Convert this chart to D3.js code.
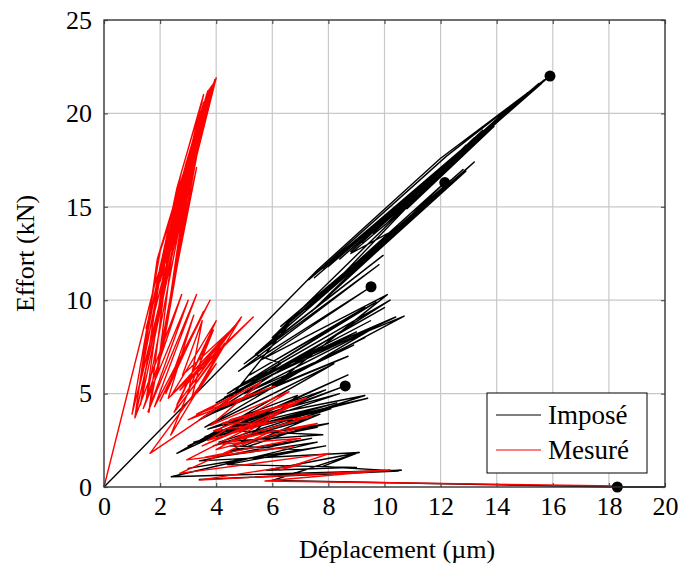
<!DOCTYPE html>
<html><head><meta charset="utf-8">
<script src="https://cdn.jsdelivr.net/npm/d3@7"></script>
<style>
body{margin:0;background:#fff}
svg text{font-family:'Liberation Serif','Times New Roman',Times,serif;fill:#000}
</style>
</head><body>
<svg id="c" width="681" height="567"></svg>
<script>
const xTicks = [0,2,4,6,8,10,12,14,16,18,20];
const yTicks = [0,5,10,15,20,25];
const seriesNames = ["Imposé","Mesuré"];
const seriesColors = ["#000000","#ff0000"];

// Imposé (black) polyline: displacement (µm), effort (kN)
const impose = [
[0,0],[7.6,11.6],
[12.0,17.6],[15.9,22.0],
[7.3,11.1],[12.2,17.7],[15.7,21.8],
[7.8,11.7],[15.5,21.6],
[8.2,12.1],[15.3,21.3],
[7.5,11.2],[15.1,21.1],
[8.6,12.6],[14.9,20.8],
[8.0,11.8],[14.7,20.6],
[9.0,13.0],[15.6,21.6],
[8.4,12.2],[14.5,20.3],
[9.4,13.5],[14.3,20.1],
[8.8,12.6],[15.2,21.2],
[9.8,14.0],[14.0,19.7],
[9.2,13.1],[13.8,19.4],
[10.2,14.5],[15.0,20.9],
[9.6,13.6],[13.5,19.1],
[10.6,15.0],[14.8,20.6],
[10.0,14.0],[13.2,18.7],
[11.0,15.5],[14.2,19.8],
[10.4,14.4],[12.9,18.3],
[11.4,16.0],[13.9,19.3],
[10.8,14.9],[12.6,17.8],
[8.2,10.9],[12.8,17.0],[8.6,11.3],[12.5,16.6],[7.8,10.4],[12.15,16.3],[9.0,11.7],[12.9,16.9],
[8.4,10.8],[11.8,15.6],[7.5,9.9],[11.5,15.1],[9.5,12.3],[13.2,17.4],[7.2,9.5],[11.0,14.4],
[8.0,10.6],[12.3,16.1],[6.8,9.1],[11.2,14.7],[7.0,9.3],[12.6,16.5],[6.5,8.7],[10.8,14.2],
[6.3,8.6],[10.4,13.8],[8.8,12.5],[10.7,14.9],[6.0,8.0],[10.0,13.2],[7.4,9.4],[11.4,14.9],
[5.4,7.1],[9.95,12.4],[5.0,6.6],[9.8,11.9],[4.8,6.2],[9.52,10.72],[5.6,6.8],[10.1,10.3],
[6.0,5.4],[10.7,9.15],[5.0,5.6],[10.4,9.1],[4.3,4.8],[9.5,8.9],[5.8,6.0],[10.0,9.6],
[4.0,4.5],[9.0,8.3],[4.6,5.2],[9.7,9.9],[5.2,6.0],[9.3,9.6],[4.4,5.0],[10.2,10.0],
[3.8,3.9],[8.7,7.0],[4.6,4.5],[9.3,8.0],[3.4,3.6],[6.3,6.6],[5.4,7.1],[6.6,8.7],
[4.2,4.2],[8.9,7.6],[5.0,5.0],[9.6,8.5],[3.6,3.2],[8.2,6.6],
[2.6,1.8],[8.7,6.0],[3.0,2.2],[8.6,5.41],[3.6,2.7],[9.4,4.75],[3.2,2.4],[8.3,4.5],
[4.25,3.05],[7.5,4.8],[5.6,3.8],[9.3,4.9],[4.1,2.4],[7.8,2.8],[4.8,3.0],[8.1,4.2],
[3.9,2.2],[7.2,3.6],[4.4,3.4],[7.9,5.2],[5.0,3.3],[8.4,5.0],[3.7,3.1],[6.9,4.9],
[4.9,2.4],[7.6,3.2],[5.3,2.9],[7.7,3.9],[4.5,1.9],[7.4,2.6],
[3.4,1.4],[9.1,1.85],[5.8,0.9],[9.0,1.05],[4.4,1.2],[7.9,2.2],[3.0,1.0],[7.0,2.0],
[4.5,2.2],[8.0,3.4],[5.0,2.7],[7.4,3.3],[4.0,1.6],[7.6,2.4],
[2.4,0.55],[10.6,0.9],[3.4,0.4],[10.5,0.85],[7.8,1.1],[9.07,1.84],[6.0,0.35],[18.3,0.0],[20,0]
];

// Mesuré (red) polyline
const mesure = [
[0,0],[1.8,10.8],
[2.3,13.0],[4.0,21.9],
[1.0,3.9],[2.0,12.6],[3.9,21.6],
[1.2,5.0],[2.2,12.8],[3.8,21.4],
[1.1,3.7],[1.9,12.2],[3.7,21.1],
[1.5,8.5],[2.6,14.5],[3.6,20.7],
[1.3,4.4],[2.1,12.3],[3.95,21.8],
[1.7,9.5],[3.5,20.3],
[1.5,4.6],[2.25,12.9],[3.4,19.7],
[2.0,11.0],[3.75,21.3],
[1.6,4.0],[2.3,12.4],[3.3,19.1],
[2.2,12.0],[3.55,20.6],
[1.9,6.0],[2.4,12.2],[3.2,18.4],
[2.5,13.4],[3.65,20.9],
[2.1,7.4],[2.6,12.6],[3.1,17.6],
[2.4,12.7],[3.45,20.1],
[2.2,8.6],[2.9,15.0],
[2.7,12.9],[3.3,17.1],
[2.3,9.5],[3.0,16.6],[2.8,14.3],[3.85,21.5],
[1.4,7.0],[2.0,11.8],[3.35,19.6],
[1.7,9.6],[2.6,16.0],[3.55,21.0],[1.9,10.5],[2.75,16.8],[3.45,20.4],[2.0,10.0],[2.9,17.2],[3.7,21.2],
[1.1,3.7],[2.77,10.3],[1.4,4.2],[3.0,10.0],[1.57,4.03],[3.3,10.3],[1.8,4.3],[3.78,10.0],
[2.0,4.6],[3.55,9.4],[2.2,5.0],[3.2,9.2],[2.29,4.75],[5.32,9.1],[2.71,5.19],[4.85,8.94],
[2.4,4.9],[4.0,8.9],[2.6,4.4],[4.5,8.3],[2.9,5.4],[3.9,8.4],[2.38,2.78],[4.9,9.1],
[3.2,5.6],[4.6,8.5],[2.8,6.0],[3.5,8.9],[3.0,5.0],[4.3,7.7],[3.4,5.4],[4.1,7.2],
[2.5,4.0],[3.6,7.6],[3.1,4.6],[3.6,5.8],[3.3,5.0],[4.0,6.6],
[1.64,1.8],[4.8,5.0],[3.0,3.6],[6.1,5.4],[3.3,3.9],[5.6,5.6],[3.8,3.3],[6.6,5.1],
[3.7,2.5],[5.8,3.4],[4.2,3.4],[7.2,4.75],[3.5,2.2],[6.2,3.9],[4.0,2.0],[7.6,3.4],
[4.7,2.6],[7.4,3.8],[3.9,3.0],[6.4,4.4],[4.5,3.6],[6.9,4.5],[2.95,1.45],[6.75,2.16],
[3.6,1.6],[7.0,2.6],[4.2,2.3],[6.0,3.0],
[2.7,0.73],[8.06,1.8],[6.27,0.91],[7.0,1.2],[3.4,0.37],[10.2,0.91],[5.74,0.32],[18.3,0.05]
];

const markers = [[15.9,22.0],[12.15,16.3],[9.52,10.72],[8.6,5.41],[18.3,0.0]];

const L = 104, R = 665, T = 20, B = 487;
const x = d3.scaleLinear().domain([0,20]).range([L,R]);
const y = d3.scaleLinear().domain([0,25]).range([B,T]);
const svg = d3.select("#c");
const FONT = "'Liberation Serif','Times New Roman',Times,serif";

// grid
svg.append("g").selectAll("line").data(xTicks).join("line")
  .attr("x1",d=>x(d)).attr("x2",d=>x(d)).attr("y1",T).attr("y2",B)
  .attr("stroke","#c8c8c8").attr("stroke-width",1.2);
svg.append("g").selectAll("line").data(yTicks).join("line")
  .attr("y1",d=>y(d)).attr("y2",d=>y(d)).attr("x1",L).attr("x2",R)
  .attr("stroke","#c8c8c8").attr("stroke-width",1.2);

// series
const line = d3.line().x(d=>x(d[0])).y(d=>y(d[1]));
svg.append("path").datum(impose).attr("d",line).attr("fill","none")
  .attr("stroke",seriesColors[0]).attr("stroke-width",1.4).attr("stroke-linejoin","round");
svg.append("path").datum(mesure).attr("d",line).attr("fill","none")
  .attr("stroke",seriesColors[1]).attr("stroke-width",1.4).attr("stroke-linejoin","round");

svg.append("g").selectAll("circle").data(markers).join("circle")
  .attr("cx",d=>x(d[0])).attr("cy",d=>y(d[1])).attr("r",5.5).attr("fill","#000");

// axes
const fs = "26px";
const gx = svg.append("g").attr("transform",`translate(0,${B})`)
  .call(d3.axisBottom(x).tickValues(xTicks).tickSizeInner(-4).tickSizeOuter(0).tickPadding(10));
const gy = svg.append("g").attr("transform",`translate(${L},0)`)
  .call(d3.axisLeft(y).tickValues(yTicks).tickSizeInner(-4).tickSizeOuter(0).tickPadding(12));
const gt = svg.append("g").attr("transform",`translate(0,${T})`)
  .call(d3.axisTop(x).tickValues(xTicks).tickSizeInner(-4).tickSizeOuter(0).tickFormat(""));
const gr = svg.append("g").attr("transform",`translate(${R},0)`)
  .call(d3.axisRight(y).tickValues(yTicks).tickSizeInner(-4).tickSizeOuter(0).tickFormat(""));
[gx,gy,gt,gr].forEach(g=>{
  g.attr("font-family",FONT).attr("font-size",fs);
  g.select(".domain").remove();
  g.selectAll(".tick line").attr("stroke","#555").attr("stroke-width",1.2);
  g.selectAll("text").attr("fill","#000");
});
svg.append("rect").attr("x",L).attr("y",T).attr("width",R-L).attr("height",B-T)
  .attr("fill","none").attr("stroke","#333").attr("stroke-width",1.3);

// axis titles
svg.append("text").attr("x",397).attr("y",558).attr("text-anchor","middle")
  .attr("font-family",FONT).attr("font-size",fs).text("Déplacement (µm)");
svg.append("text").attr("transform",`translate(34,${(T+B)/2}) rotate(-90)`).attr("text-anchor","middle")
  .attr("font-family",FONT).attr("font-size",fs).text("Effort (kN)");

// legend
const lg = svg.append("g");
lg.append("rect").attr("x",487).attr("y",393).attr("width",160).attr("height",80)
  .attr("fill","#fff").attr("stroke","#000").attr("stroke-width",1);
seriesNames.forEach((n,i)=>{
  const yy = 415 + i*35;
  lg.append("line").attr("x1",496).attr("x2",541).attr("y1",yy).attr("y2",yy)
    .attr("stroke",seriesColors[i]).attr("stroke-width",1.2);
  lg.append("text").attr("x",548).attr("y",yy+9).attr("font-family",FONT).attr("font-size","27px").text(n);
});
</script>
</body></html>
